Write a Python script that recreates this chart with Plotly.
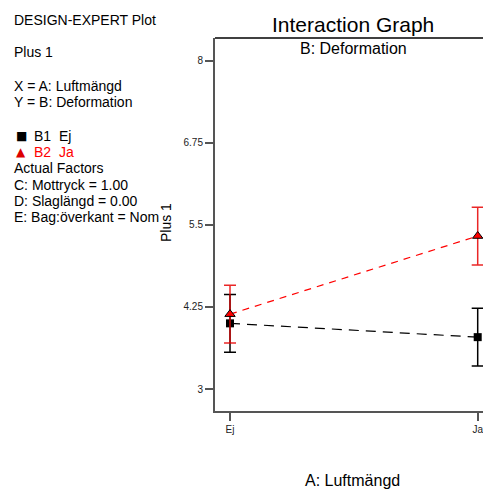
import plotly.graph_objects as go

# Factor A levels on the x axis
levels = ["Ej", "Ja"]
level_pos = [0, 1]

# Predicted response (Plus 1) for each B level, with interval half-widths
b1_values = [4.00, 3.79]
b1_err = [0.44, 0.44]
b2_values = [4.14, 5.33]
b2_err = [0.44, 0.44]

y_ticks = [3, 4.25, 5.5, 6.75, 8]
y_tick_labels = ["3", "4.25", "5.5", "6.75", "8"]

info_lines = [
    ("DESIGN-EXPERT Plot", "black", 20),
    ("Plus 1", "black", 52),
    ("X = A: Luftmängd", "black", 86),
    ("Y = B: Deformation", "black", 102),
    ("Actual Factors", "black", 168),
    ("C: Mottryck = 1.00", "black", 185),
    ("D: Slaglängd = 0.00", "black", 201),
    ("E: Bag:överkant = Nom", "black", 217),
]

W, H = 483, 489
L, R, T, B = 215, 0, 38, 78
FONT = "Liberation Sans, Arial, sans-serif"
AXC = "#555555"


def px(x):
    return (x - L) / (W - L - R)


def py(y):
    return (H - B - y) / (H - T - B)


fig = go.Figure()

fig.add_trace(go.Scatter(
    x=level_pos, y=b1_values, mode="lines+markers", name="B1 Ej",
    line=dict(color="black", width=1.2, dash="10px,7px"),
    marker=dict(symbol="square", size=8, color="black"),
    error_y=dict(type="data", array=b1_err, color="black", thickness=1.5, width=6),
))
fig.add_trace(go.Scatter(
    x=level_pos, y=b2_values, mode="lines+markers", name="B2 Ja",
    line=dict(color="red", width=1.2, dash="7px,6px"),
    marker=dict(symbol="triangle-up", size=9, color="red",
                line=dict(color="black", width=1)),
    error_y=dict(type="data", array=b2_err, color="rgba(230,0,0,0.85)", thickness=1.5, width=6),
))

annotations = []
for text, color, y in info_lines:
    annotations.append(dict(text=text, x=px(12), y=py(y), xref="paper", yref="paper",
                            xanchor="left", yanchor="middle", showarrow=False,
                            font=dict(family=FONT, size=14, color=color)))
annotations.append(dict(text="■", x=px(14), y=py(136), xref="paper", yref="paper",
                        xanchor="left", yanchor="middle", showarrow=False,
                        font=dict(family="DejaVu Sans", size=12, color="black")))
annotations.append(dict(text="B1  Ej", x=px(32), y=py(136), xref="paper", yref="paper",
                        xanchor="left", yanchor="middle", showarrow=False,
                        font=dict(family=FONT, size=14, color="black")))
annotations.append(dict(text="▲", x=px(14), y=py(152), xref="paper", yref="paper",
                        xanchor="left", yanchor="middle", showarrow=False,
                        font=dict(family="DejaVu Sans", size=12, color="#dd0000")))
annotations.append(dict(text="B2  Ja", x=px(32), y=py(152), xref="paper", yref="paper",
                        xanchor="left", yanchor="middle", showarrow=False,
                        font=dict(family=FONT, size=14, color="red")))
annotations.append(dict(text="Interaction Graph", x=px(353), y=py(25), xref="paper", yref="paper",
                        xanchor="center", yanchor="middle", showarrow=False,
                        font=dict(family=FONT, size=21, color="black")))
annotations.append(dict(text="B: Deformation", x=px(353), y=py(48), xref="paper", yref="paper",
                        xanchor="center", yanchor="middle", showarrow=False,
                        font=dict(family=FONT, size=16, color="black")))
annotations.append(dict(text="A: Luftmängd", x=px(352), y=py(481), xref="paper", yref="paper",
                        xanchor="center", yanchor="middle", showarrow=False,
                        font=dict(family=FONT, size=16, color="black")))
annotations.append(dict(text="Plus 1", x=px(166), y=py(223), xref="paper", yref="paper",
                        xanchor="center", yanchor="middle", showarrow=False, textangle=-90,
                        font=dict(family=FONT, size=14, color="black")))

fig.update_layout(
    width=W, height=H,
    margin=dict(l=L, r=R, t=T, b=B, pad=0),
    paper_bgcolor="white", plot_bgcolor="white",
    showlegend=False,
    annotations=annotations,
    shapes=[dict(type="line", xref="paper", yref="paper", x0=0, x1=1, y0=1, y1=1,
                 line=dict(color="black", width=1.5))],
    xaxis=dict(range=[-0.0606, 1.0214], tickvals=level_pos, ticktext=levels,
               showline=True, linecolor=AXC, linewidth=2, mirror=False,
               ticks="outside", ticklen=8, tickwidth=1.5, tickcolor=AXC,
               showgrid=False, zeroline=False, ticklabeloverflow="allow",
               tickfont=dict(family=FONT, size=10, color="#222222")),
    yaxis=dict(range=[2.665, 8.346], tickvals=y_ticks, ticktext=y_tick_labels,
               showline=True, linecolor=AXC, linewidth=2, mirror=False,
               ticks="outside", ticklen=8, tickwidth=1.5, tickcolor=AXC,
               showgrid=False, zeroline=False,
               tickfont=dict(family=FONT, size=10, color="#222222")),
)

fig.write_html("out.html")
